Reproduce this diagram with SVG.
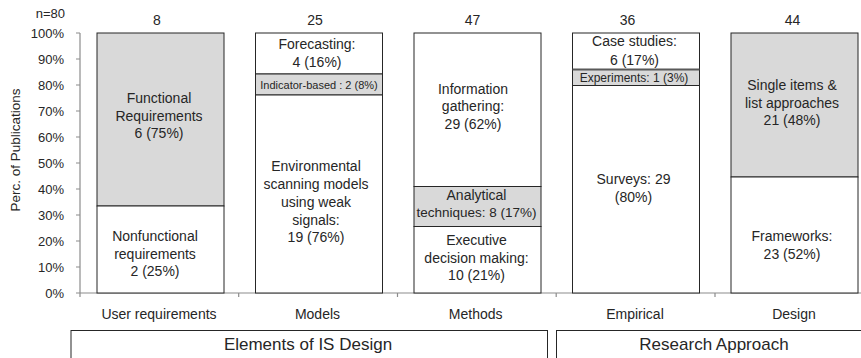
<svg xmlns="http://www.w3.org/2000/svg" width="861" height="358" viewBox="0 0 861 358">
<style>
text{font-family:"Liberation Sans",Arial,sans-serif;fill:#262626}
.lbl{font-size:14px;text-anchor:middle}
.tick{font-size:13px;text-anchor:end}
.sm{font-size:11px;text-anchor:middle}
.big{font-size:17px;text-anchor:middle}
.seg{stroke:#262626;stroke-width:1}
.g{fill:#d9d9d9}
.w{fill:#ffffff}
.ax{stroke:#8c8c8c;stroke-width:1.2;fill:none}
</style>
<rect width="861" height="358" fill="#ffffff"/>
<g id="axes">
<line class="ax" x1="80" y1="33" x2="80" y2="297"/>
<line class="ax" x1="76" y1="293" x2="861" y2="293"/>
<path class="ax" d="M76 33H80M76 59H80M76 85H80M76 111H80M76 137H80M76 163H80M76 189H80M76 215H80M76 241H80M76 267H80M238.7 293V297M397.5 293V297M556.2 293V297M715 293V297"/>
<text class="tick" x="64" y="37.5">100%</text>
<text class="tick" x="64" y="63.5">90%</text>
<text class="tick" x="64" y="89.5">80%</text>
<text class="tick" x="64" y="115.5">70%</text>
<text class="tick" x="64" y="141.5">60%</text>
<text class="tick" x="64" y="167.5">50%</text>
<text class="tick" x="64" y="193.5">40%</text>
<text class="tick" x="64" y="219.5">30%</text>
<text class="tick" x="64" y="245.5">20%</text>
<text class="tick" x="64" y="271.5">10%</text>
<text class="tick" x="64" y="297.5">0%</text>
<text class="tick" x="65" y="17.5">n=80</text>
<text x="20" y="150" transform="rotate(-90 20 150)" style="font-size:13.5px;text-anchor:middle">Perc. of Publications</text>
</g>
<g id="bar-user-requirements">
<text class="lbl" x="157" y="25">8</text>
<rect class="seg g" x="97" y="33" width="127" height="173"/>
<rect class="seg w" x="97" y="206" width="127" height="87"/>
<text class="lbl" x="159" y="103">Functional</text>
<text class="lbl" x="159" y="121">Requirements</text>
<text class="lbl" x="159" y="138">6 (75%)</text>
<text class="lbl" x="155" y="241">Nonfunctional</text>
<text class="lbl" x="155" y="258.5">requirements</text>
<text class="lbl" x="155" y="276">2 (25%)</text>
<text class="lbl" x="159" y="318.5">User requirements</text>
</g>
<g id="bar-models">
<text class="lbl" x="315" y="25">25</text>
<rect class="seg w" x="255.5" y="33" width="127" height="41"/>
<rect class="seg g" x="255.5" y="74" width="127" height="21"/>
<rect class="seg w" x="255.5" y="95" width="127" height="198"/>
<text class="lbl" x="317" y="49">Forecasting:</text>
<text class="lbl" x="317" y="66.5">4 (16%)</text>
<text class="sm" x="319" y="88.5">Indicator-based : 2 (8%)</text>
<text class="lbl" x="316" y="171">Environmental</text>
<text class="lbl" x="316" y="189">scanning models</text>
<text class="lbl" x="316" y="206.5">using weak</text>
<text class="lbl" x="316" y="224.5">signals:</text>
<text class="lbl" x="316" y="242">19 (76%)</text>
<text class="lbl" x="317.5" y="318.5">Models</text>
</g>
<g id="bar-methods">
<text class="lbl" x="472.5" y="25">47</text>
<rect class="seg w" x="414" y="33" width="127" height="153.5"/>
<rect class="seg g" x="414" y="186.5" width="127" height="40"/>
<rect class="seg w" x="414" y="226.5" width="127" height="66.5"/>
<text class="lbl" x="473" y="93.5">Information</text>
<text class="lbl" x="473" y="111">gathering:</text>
<text class="lbl" x="473" y="128.5">29 (62%)</text>
<text class="lbl" x="476.5" y="200">Analytical</text>
<text class="lbl" x="476.5" y="216.5" style="font-size:13.5px">techniques: 8 (17%)</text>
<text class="lbl" x="476.5" y="245">Executive</text>
<text class="lbl" x="476.5" y="262.5">decision making:</text>
<text class="lbl" x="476.5" y="280">10 (21%)</text>
<text class="lbl" x="475.7" y="318.5">Methods</text>
</g>
<g id="bar-empirical">
<text class="lbl" x="627.5" y="25">36</text>
<rect class="seg w" x="572.5" y="33" width="127" height="36.5"/>
<rect class="seg g" x="572.5" y="69.5" width="127" height="16"/>
<rect class="seg w" x="572.5" y="85.5" width="127" height="207.5"/>
<line x1="572.5" y1="69.5" x2="699.5" y2="69.5" stroke="#595959" stroke-width="2"/>
<text class="lbl" x="634.5" y="46">Case studies:</text>
<text class="lbl" x="634.5" y="64.5">6 (17%)</text>
<text x="634" y="81.5" style="font-size:12px;text-anchor:middle">Experiments: 1 (3%)</text>
<text class="lbl" x="633.5" y="184">Surveys: 29</text>
<text class="lbl" x="633.5" y="201.5">(80%)</text>
<text class="lbl" x="635" y="318.5">Empirical</text>
</g>
<g id="bar-design">
<text class="lbl" x="792.5" y="25">44</text>
<rect class="seg g" x="731" y="33" width="127" height="144"/>
<rect class="seg w" x="731" y="177" width="127" height="116"/>
<text class="lbl" x="792" y="90">Single items &amp;</text>
<text class="lbl" x="792" y="107.5">list approaches</text>
<text class="lbl" x="792" y="125">21 (48%)</text>
<text class="lbl" x="792" y="240.5">Frameworks:</text>
<text class="lbl" x="792" y="258.5">23 (52%)</text>
<text class="lbl" x="794" y="318.5">Design</text>
</g>
<g id="group-elements">
<rect x="71" y="330.5" width="476.5" height="40" fill="none" stroke="#262626" stroke-width="1"/>
<text class="big" x="308" y="350">Elements of IS Design</text>
</g>
<g id="group-research">
<rect x="556.5" y="330.5" width="316" height="40" fill="none" stroke="#262626" stroke-width="1"/>
<text class="big" x="714" y="350">Research Approach</text>
</g>
</svg>
